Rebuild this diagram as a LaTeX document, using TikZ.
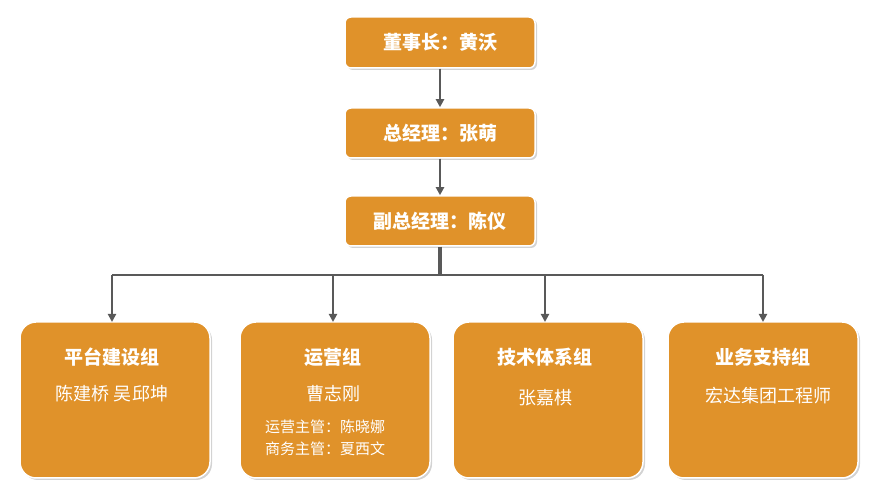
\documentclass[tikz,border=0pt]{standalone}
\usepackage{fontspec}
\setmainfont{Noto Sans CJK SC}
\usetikzlibrary{arrows.meta,shadows}
\definecolor{org}{HTML}{E0922A}
\definecolor{ln}{HTML}{595959}
\begin{document}
\begin{tikzpicture}[x=1pt,y=1pt,
  box/.style={fill=org,draw=white,line width=1.5pt,rounded corners=6pt,drop shadow={shadow xshift=2pt,shadow yshift=-2pt,opacity=0.35},text=white,font=\fontsize{19}{22}\selectfont\bfseries,inner sep=0pt},
  big/.style={fill=org,draw=white,line width=1.5pt,rounded corners=16pt,drop shadow={shadow xshift=2pt,shadow yshift=-2pt,opacity=0.35},minimum width=190pt,minimum height=156pt,inner sep=0pt},
  ar/.style={draw=ln,line width=2.2pt,-{Triangle[length=8pt,width=8pt]}},
  wt/.style={text=white,inner sep=0pt}]
\useasboundingbox (0,0) rectangle (879,500);
\node[box,minimum width=190pt,minimum height=51pt] (a) at (440,457.5) {董事长：黄沃};
\node[box,minimum width=190pt,minimum height=50pt] (b) at (440,367) {总经理：张萌};
\node[box,minimum width=190pt,minimum height=50pt] (c) at (440,279) {副总经理：陈仪};
\draw[ar] (a) -- (b);
\draw[ar] (b) -- (c);
\coordinate (m) at (440,225);
\draw[draw=ln,line width=4pt] (c.south) -- (m);
\coordinate (l1) at (112,225); \coordinate (l2) at (333,225);
\coordinate (l3) at (545,225); \coordinate (l4) at (763,225);
\draw[draw=ln,line width=2.5pt] (l1) -- (l4);
\node[big] (p1) at (115,100) {};
\node[big] (p2) at (335,100) {};
\node[big] (p3) at (548,100) {};
\node[big] (p4) at (763,100) {};
\draw[ar] (l1) -- (112,178);
\draw[ar] (l2) -- (333,178);
\draw[ar] (l3) -- (545,178);
\draw[ar] (l4) -- (763,178);
\node[wt,font=\fontsize{19}{22}\selectfont\bfseries] (t1) at (112,143) {平台建设组};
\node[wt,font=\fontsize{18}{22}\selectfont] (n1) at (112,106) {陈建桥 吴邱坤};
\node[wt,font=\fontsize{19}{22}\selectfont\bfseries] (t2) at (333,143) {运营组};
\node[wt,font=\fontsize{18}{22}\selectfont] (n2) at (333,106) {曹志刚};
\node[wt,font=\fontsize{15}{18}\selectfont] (s1) at (325,73) {运营主管：陈晓娜};
\node[wt,font=\fontsize{15}{18}\selectfont] (s2) at (325,51) {商务主管：夏西文};
\node[wt,font=\fontsize{19}{22}\selectfont\bfseries] (t3) at (545,143) {技术体系组};
\node[wt,font=\fontsize{18}{22}\selectfont] (n3) at (545,102) {张嘉棋};
\node[wt,font=\fontsize{19}{22}\selectfont\bfseries] (t4) at (763,143) {业务支持组};
\node[wt,font=\fontsize{18}{22}\selectfont] (n4) at (768,104) {宏达集团工程师};
\end{tikzpicture}
\end{document}
